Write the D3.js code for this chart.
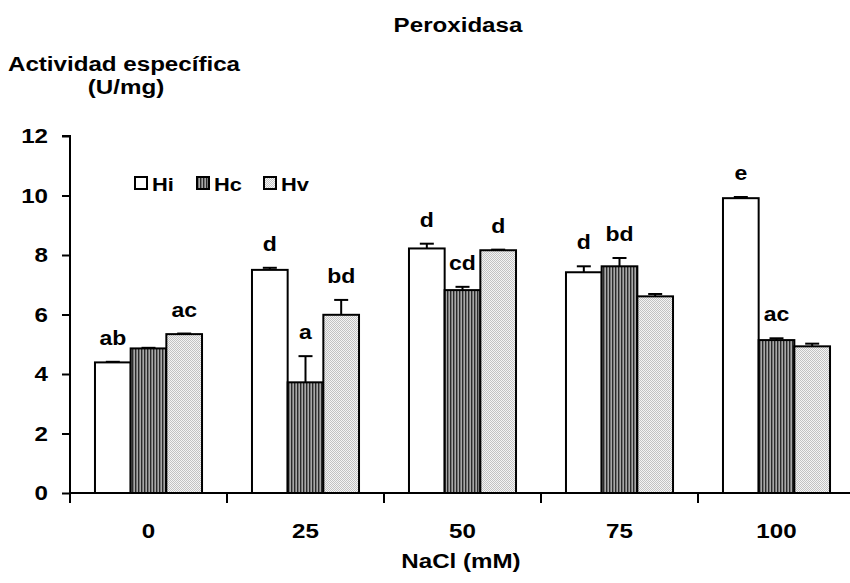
<!DOCTYPE html>
<html>
<head>
<meta charset="utf-8">
<script src="https://cdn.jsdelivr.net/npm/d3@7"></script>
<style>
  html, body { margin: 0; padding: 0; background: #fff; }
  svg { display: block; }
  text { font-family: "Liberation Sans", Arial, sans-serif; font-weight: bold; fill: #000; }
</style>
</head>
<body>
<svg id="chart" width="850" height="583"></svg>
<script>
// ---- data ----
const categories = ["0", "25", "50", "75", "100"];
const seriesNames = ["Hi", "Hc", "Hv"];
const valuesHi = [4.39, 7.50, 8.22, 7.42, 9.91];
const valuesHc = [4.86, 3.72, 6.82, 7.62, 5.14];
const valuesHv = [5.34, 5.99, 8.16, 6.61, 4.93];
const errorsHi = [0.02, 0.07, 0.16, 0.20, 0.04];
const errorsHc = [0.02, 0.88, 0.11, 0.28, 0.06];
const errorsHv = [0.02, 0.50, 0.02, 0.08, 0.09];
const lettersHi = ["ab", "d", "d", "d", "e"];
const lettersHc = ["", "a", "cd", "bd", "ac"];
const lettersHv = ["ac", "bd", "d", "", ""];
const yTicks = [0, 2, 4, 6, 8, 10, 12];
const titleText = "Peroxidasa";
const yTitle = ["Actividad específica", "(U/mg)"];
const xTitle = "NaCl (mM)";

const seriesValues = { Hi: valuesHi, Hc: valuesHc, Hv: valuesHv };
const seriesErrors = { Hi: errorsHi, Hc: errorsHc, Hv: errorsHv };
const seriesLetters = { Hi: lettersHi, Hc: lettersHc, Hv: lettersHv };

const SX = 1.15; // horizontal stretch of the reference's lettering
function stretch(sel) {
  sel.each(function () {
    const t = d3.select(this);
    const x = +t.attr("x") || 0, yy = +t.attr("y") || 0;
    const prev = t.attr("transform") || "";
    t.attr("x", 0).attr("y", 0)
     .attr("transform", `${prev} translate(${x},${yy}) scale(${SX},1)`);
  });
}

const svg = d3.select("#chart");

// patterns
const defs = svg.append("defs");
const pHc = defs.append("pattern").attr("id", "pat-Hc").attr("patternUnits", "userSpaceOnUse")
  .attr("width", 3).attr("height", 3);
pHc.append("rect").attr("width", 3).attr("height", 3).attr("fill", "#a8a8a8");
pHc.append("rect").attr("x", 0).attr("width", 1.4).attr("height", 3).attr("fill", "#2a2a2a");
const pHv = defs.append("pattern").attr("id", "pat-Hv").attr("patternUnits", "userSpaceOnUse")
  .attr("width", 2).attr("height", 2);
pHv.append("rect").attr("width", 2).attr("height", 2).attr("fill", "#f4f4f4");
pHv.append("rect").attr("x", 0).attr("y", 0).attr("width", 1).attr("height", 1).attr("fill", "#c2c2c2");
pHv.append("rect").attr("x", 1).attr("y", 1).attr("width", 1).attr("height", 1).attr("fill", "#c2c2c2");

const fills = { Hi: "#ffffff", Hc: "url(#pat-Hc)", Hv: "url(#pat-Hv)" };

// scales
const x0 = d3.scaleBand().domain(categories).range([70, 855]).padding(0);
const x1 = d3.scaleBand().domain(seriesNames).range([0, x0.bandwidth()]).paddingInner(0).paddingOuter(0.7);
const y = d3.scaleLinear().domain([0, 12]).range([493, 136]);

const rows = [];
categories.forEach((c, i) => {
  seriesNames.forEach(s => {
    rows.push({ cat: c, s, v: seriesValues[s][i], e: seriesErrors[s][i], lab: seriesLetters[s][i] });
  });
});

const g = svg.append("g");
const cx = d => x0(d.cat) + x1(d.s) + x1.bandwidth() / 2;
const eb = g.selectAll(".err").data(rows).enter().append("g").attr("class", "err")
  .attr("stroke", "#000").attr("stroke-width", 2);
eb.append("line").attr("x1", cx).attr("x2", cx)
  .attr("y1", d => y(d.v)).attr("y2", d => y(d.v + d.e));
eb.append("line").attr("x1", d => cx(d) - 7).attr("x2", d => cx(d) + 7)
  .attr("y1", d => y(d.v + d.e)).attr("y2", d => y(d.v + d.e));

g.selectAll(".bar").data(rows).enter().append("rect").attr("class", "bar")
  .attr("x", d => x0(d.cat) + x1(d.s))
  .attr("y", d => y(d.v))
  .attr("width", x1.bandwidth())
  .attr("height", d => y(0) - y(d.v))
  .attr("fill", d => fills[d.s])
  .attr("stroke", "#000").attr("stroke-width", 2);

// letters
g.selectAll(".lab").data(rows.filter(d => d.lab)).enter().append("text").attr("class", "lab")
  .attr("x", cx)
  .attr("y", d => y(d.v + d.e) - 17)
  .attr("text-anchor", "middle").style("font-size", "20px")
  .text(d => d.lab)
  .call(stretch);

// y axis
const yAxis = d3.axisLeft(y).tickValues(yTicks).tickSize(8).tickPadding(14).tickFormat(d3.format("d"));
const ya = svg.append("g").attr("transform", "translate(70,0)").call(yAxis);
ya.select(".domain").attr("stroke", "#000").attr("stroke-width", 2).attr("d", `M-8,${y(12)}H0V${y(0)}`);
ya.selectAll(".tick line").attr("stroke", "#000").attr("stroke-width", 2);
ya.selectAll(".tick text").style("font-size", "21px").style("font-family", "'Liberation Sans', Arial, sans-serif").style("font-weight", "bold").call(stretch);

// x axis
const xAxis = d3.axisBottom(x0).tickSize(0).tickPadding(30);
const xa = svg.append("g").attr("transform", `translate(0,${y(0)})`).call(xAxis);
xa.select(".domain").attr("stroke", "#000").attr("stroke-width", 2).attr("d", `M70,0H855`);
xa.selectAll(".tick text").style("font-size", "21px").style("font-family", "'Liberation Sans', Arial, sans-serif").style("font-weight", "bold").call(stretch);
const bounds = categories.map(c => x0(c)).concat([x0.range()[1]]);
xa.selectAll(".bound").data(bounds).enter().append("line").attr("class", "bound")
  .attr("x1", d => d).attr("x2", d => d).attr("y1", 0).attr("y2", 10)
  .attr("stroke", "#000").attr("stroke-width", 2);

// titles
svg.append("text").attr("x", 458).attr("y", 32).attr("text-anchor", "middle").style("font-size", "21px").text(titleText).call(stretch);
svg.append("text").attr("x", 124).attr("y", 71).attr("text-anchor", "middle").style("font-size", "21px").text(yTitle[0]).call(stretch);
svg.append("text").attr("x", 126).attr("y", 94).attr("text-anchor", "middle").style("font-size", "21px").text(yTitle[1]).call(stretch);
svg.append("text").attr("x", 461).attr("y", 568).attr("text-anchor", "middle").style("font-size", "21px").text(xTitle).call(stretch);

// legend
const legX = [135, 197, 264];
const leg = svg.append("g").selectAll(".leg").data(seriesNames).enter().append("g")
  .attr("transform", (d, i) => `translate(${legX[i]},177)`);
leg.append("rect").attr("width", 12).attr("height", 12).attr("fill", d => fills[d])
  .attr("stroke", "#000").attr("stroke-width", 2);
leg.append("text").attr("x", 17).attr("y", 13.5).style("font-size", "19px").text(d => d).call(stretch);
</script>
</body>
</html>
